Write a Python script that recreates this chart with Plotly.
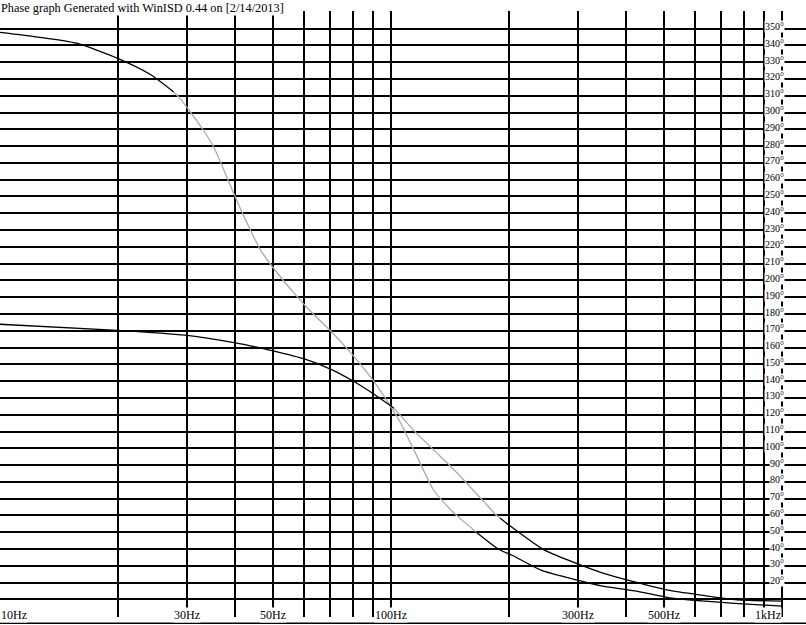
import math
import plotly.graph_objects as go

# ---------------- data ----------------
title_text = "Phase graph Generated with WinISD 0.44 on [2/14/2013]"

# curve A (starts high, ~348 deg)
freq_a = [10, 12.5, 15.7, 20, 24.2, 27.8, 28.9, 32.9, 35.2, 39.6, 41.7, 46.4, 49.8,
          56.5, 61.2, 70, 79, 89.9, 100, 106, 114.5, 128.6, 142.6, 151, 165, 189,
          204, 242, 300, 345, 420, 511, 623, 757, 1000]
phase_a = [347.8, 345.0, 341.3, 332.3, 322.8, 312.3, 308.3, 290.5, 279.5, 251.9, 240.0,
           218.0, 208.0, 192.4, 183.4, 170.0, 156.7, 140.6, 124.7, 114.8, 98.9, 75.0,
           63.1, 57.8, 50.2, 39.7, 36.3, 27.4, 21.4, 18.0, 15.1, 11.1, 9.1, 7.6, 6.0]
gray_span_a = (27.8, 165)          # part of curve A drawn in grey

# curve B (starts low, ~174 deg)
freq_b = [10, 20, 29.7, 40, 45, 50, 60, 70, 79, 89.7, 101.8, 114, 128.7, 142.6, 173,
          184, 190, 201, 247, 306, 345, 420, 511, 623, 757, 1000]
phase_b = [173.9, 170.3, 167.4, 162.8, 160.4, 158.0, 153.2, 147.2, 140.8, 132.8, 123.9,
           111.0, 98.9, 88.9, 68.1, 61.2, 58.5, 54.0, 39.3, 30.4, 26.0, 20.4, 15.5,
           12.5, 9.9, 8.9]
gray_span_b = (101.8, 190)         # part of curve B drawn in grey

# grid / tick values
x_grid = [20, 30, 40, 50, 60, 70, 80, 90, 100, 200, 300, 400, 500, 600, 700, 800, 900, 1000]
x_label_vals = [10, 30, 50, 100, 300, 500, 1000]
x_label_text = ["10Hz", "30Hz", "50Hz", "100Hz", "300Hz", "500Hz", "1kHz"]
y_grid = list(range(0, 361, 10))
y_label_vals = list(range(20, 351, 10))

# ---------------- figure ----------------
W, H = 806, 625
px_per_decade = 391.0
x_range = [1.0, 1.0 + W / px_per_decade]
y_range = [-0.5, 360.5]
margin_t = 10.86
margin_b = 8.16

fig = go.Figure()

BLACK = "#000000"
GRAY = "#aaaaaa"


def split_segments(freqs, phases, span):
    lo, hi = span
    segs = [([], [], BLACK), ([], [], GRAY), ([], [], BLACK)]
    for f, p in zip(freqs, phases):
        if f <= lo:
            segs[0][0].append(f); segs[0][1].append(p)
        if lo <= f <= hi:
            segs[1][0].append(f); segs[1][1].append(p)
        if f >= hi:
            segs[2][0].append(f); segs[2][1].append(p)
    return segs


for freqs, phases, span in [(freq_a, phase_a, gray_span_a), (freq_b, phase_b, gray_span_b)]:
    for xs, ys, col in split_segments(freqs, phases, span):
        fig.add_trace(go.Scatter(
            x=xs, y=ys, mode="lines",
            line=dict(color=col, width=1.3, shape="spline", smoothing=0.6),
            hoverinfo="skip", showlegend=False))

annotations = []
# title
annotations.append(dict(
    text=title_text, xref="paper", x=0, xanchor="left",
    yref="y", y=360, yanchor="bottom", yshift=-4,
    showarrow=False, bgcolor="white", borderpad=0,
    font=dict(family="Liberation Serif", size=12.3, color="black")))

# x labels
for v, t in zip(x_label_vals, x_label_text):
    if v == x_label_vals[0]:
        anchor = "left"
    elif v == x_label_vals[-1]:
        anchor = "right"
    else:
        anchor = "center"
    annotations.append(dict(
        text=t, xref="x", x=math.log10(v), xanchor=anchor,
        yref="y", y=0, yanchor="middle", yshift=1,
        showarrow=False, bgcolor="white", borderpad=0,
        font=dict(family="Liberation Serif", size=12, color="black")))

# y labels (inside, along the right)
for v in y_label_vals:
    annotations.append(dict(
        text=f"{v}°", xref="x", x=math.log10(1000), xanchor="right", xshift=3,
        yref="y", y=v, yanchor="middle", yshift=2,
        showarrow=False, bgcolor="white", borderpad=0,
        font=dict(family="Liberation Serif", size=10, color="black")))

fig.update_layout(
    width=W, height=H,
    margin=dict(l=0, r=0, t=margin_t, b=margin_b, pad=0),
    paper_bgcolor="white", plot_bgcolor="white",
    showlegend=False,
    annotations=annotations,
    shapes=[dict(type="line", xref="paper", x0=0, x1=1, yref="paper",
                 y0=-0.0105, y1=-0.0105, line=dict(color="black", width=1.5))],
    xaxis=dict(type="log", range=x_range, tickvals=x_grid, showticklabels=False,
               ticks="", showgrid=True, gridcolor="black", gridwidth=1.5,
               zeroline=False, showline=False, fixedrange=True),
    yaxis=dict(range=y_range, tickvals=y_grid, showticklabels=False, ticks="",
               showgrid=True, gridcolor="black", gridwidth=1.5,
               zeroline=False, showline=False, fixedrange=True),
)

fig.write_html("out.html", config={"displayModeBar": False},
               post_script="document.body.style.margin='0';document.body.style.overflow='hidden';")
